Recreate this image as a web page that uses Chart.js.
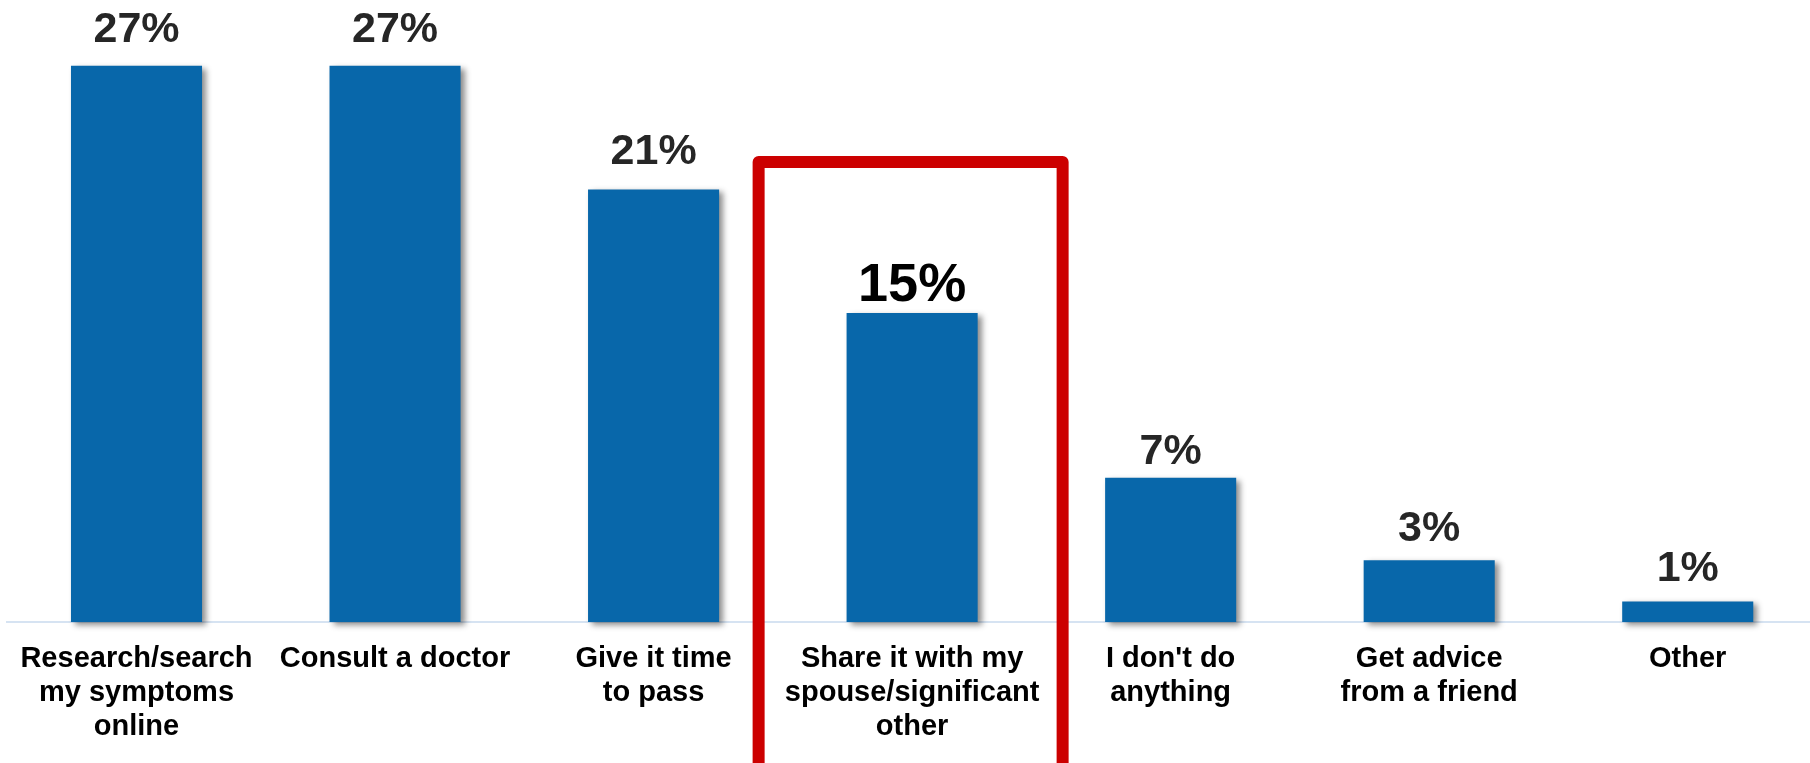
<!DOCTYPE html>
<html>
<head>
<meta charset="utf-8">
<title>What do you do when you notice a symptom?</title>
<script src="https://cdn.jsdelivr.net/npm/chart.js@4/dist/chart.umd.min.js"></script>
<style>
    html, body {
        margin: 0;
        padding: 0;
        background: #ffffff;
        overflow: hidden;
    }
    #wrap {
        width: 1818px;
        height: 763px;
    }
</style>
</head>
<body>
<div id="wrap">
    <canvas id="chart" width="1818" height="763"></canvas>
</div>
<script>
// Answers, one label line per array entry
const categories = [
    ['Research/search', 'my symptoms', 'online'],
    ['Consult a doctor'],
    ['Give it time', 'to pass'],
    ['Share it with my', 'spouse/significant', 'other'],
    ["I don't do", 'anything'],
    ['Get advice', 'from a friend'],
    ['Other']
];

// Share of respondents, in percent
const shares = [27, 27, 21, 15, 7, 3, 1];

// Answer that gets the red frame and the bigger label
const highlightIndex = 3;

// Space between a bar top and its value label baseline
const labelGap = [24, 24, 25, 12, 14, 19, 20];

const FONT = '"Liberation Sans", Arial, Helvetica, sans-serif';
const BAR_COLOR = '#0867aa';

// Soft drop shadow behind every bar
const barShadow = {
    id: 'barShadow',
    beforeDatasetsDraw(chart) {
        const { ctx } = chart;
        ctx.save();
        ctx.shadowColor = 'rgba(0, 0, 0, 0.45)';
        ctx.shadowBlur = 6;
        ctx.shadowOffsetX = 4;
        ctx.shadowOffsetY = 3;
    },
    afterDatasetsDraw(chart) {
        chart.ctx.restore();
    }
};

// Percent labels above the bars
const valueLabels = {
    id: 'valueLabels',
    afterDatasetsDraw(chart) {
        const { ctx } = chart;
        const bars = chart.getDatasetMeta(0).data;

        ctx.save();
        ctx.textAlign = 'center';
        ctx.textBaseline = 'alphabetic';

        bars.forEach((bar, i) => {
            const big = i === highlightIndex;
            ctx.font = `bold ${big ? 54 : 43}px ${FONT}`;
            ctx.fillStyle = big ? '#000000' : '#262626';
            ctx.fillText(`${shares[i]}%`, bar.x, bar.y - labelGap[i]);
        });

        ctx.restore();
    }
};

// Red frame round the highlighted answer
const highlightFrame = {
    id: 'highlightFrame',
    afterDraw(chart) {
        const { ctx } = chart;
        const bar = chart.getDatasetMeta(0).data[highlightIndex];
        const halfWidth = 152;
        const x = bar.x - 1.5 - halfWidth;
        const top = 162;

        ctx.save();
        ctx.strokeStyle = '#cc0000';
        ctx.lineWidth = 12;
        ctx.lineJoin = 'round';
        ctx.beginPath();
        ctx.moveTo(x, chart.height + 10);
        ctx.lineTo(x, top);
        ctx.lineTo(x + halfWidth * 2, top);
        ctx.lineTo(x + halfWidth * 2, chart.height + 10);
        ctx.stroke();
        ctx.restore();
    }
};

new Chart(document.getElementById('chart'), {
    type: 'bar',
    data: {
        labels: categories,
        datasets: [
            {
                data: shares,
                backgroundColor: BAR_COLOR,
                hoverBackgroundColor: BAR_COLOR,
                borderWidth: 0,
                barPercentage: 0.507,
                categoryPercentage: 1,
                clip: false
            }
        ]
    },
    options: {
        responsive: false,
        animation: false,
        events: [],
        layout: {
            padding: {
                top: 4,
                left: 6,
                right: 1,
                bottom: 0
            }
        },
        plugins: {
            legend: {
                display: false
            },
            tooltip: {
                enabled: false
            }
        },
        scales: {
            x: {
                grid: {
                    display: false,
                    drawTicks: false
                },
                border: {
                    display: true,
                    color: '#d6e3f2',
                    width: 2
                },
                ticks: {
                    padding: 20,
                    maxRotation: 0,
                    autoSkip: false,
                    color: '#000000',
                    font: {
                        family: FONT,
                        size: 29,
                        weight: 'bold',
                        lineHeight: '34px'
                    }
                },
                afterFit(scale) {
                    scale.height = 141;
                }
            },
            y: {
                display: false,
                min: 0,
                max: 30
            }
        }
    },
    plugins: [barShadow, valueLabels, highlightFrame]
});
</script>
</body>
</html>
